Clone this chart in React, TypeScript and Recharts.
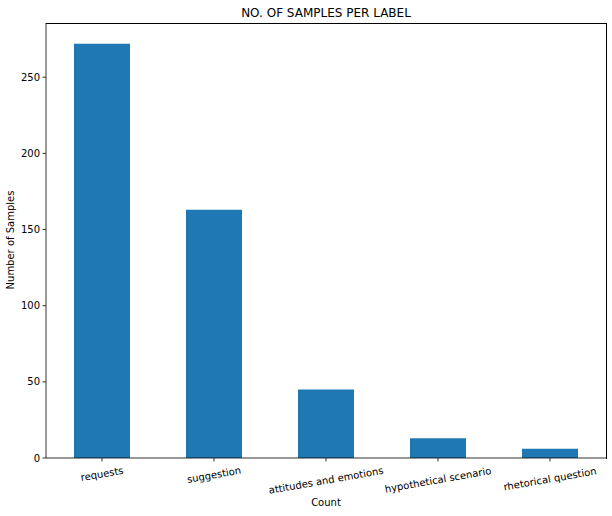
import { BarChart, Bar, XAxis, YAxis } from "recharts";

const labels = [
  "requests",
  "suggestion",
  "attitudes and emotions",
  "hypothetical scenario",
  "rhetorical question",
];
const counts = [272, 163, 45, 13, 6];
const yTicks = [0, 50, 100, 150, 200, 250];

const data = labels.map((label, i) => ({ label, count: counts[i] }));

const FONT = "DejaVu Sans, sans-serif";

const RotatedTick = ({ x, y, payload }: any) => {
  const text = String(payload.value);
  // rotated bbox height so the top of the label sits just under the tick
  const w = text.length * 5.3;
  const a = (10 * Math.PI) / 180;
  const h = w * Math.sin(a) + 11.6 * Math.cos(a);
  const cy = y + h / 2;
  return (
    <text
      x={x}
      y={cy}
      textAnchor="middle"
      dominantBaseline="central"
      transform={`rotate(-10, ${x}, ${cy})`}
      fontSize={10}
      fontFamily={FONT}
      fill="#000"
    >
      {text}
    </text>
  );
};

const App = () => {
  return (
    <div
      style={{
        position: "absolute",
        left: 0,
        top: 0,
        width: 612,
        height: 516,
        background: "#fff",
        fontFamily: FONT,
      }}
    >
      <div
        style={{
          position: "absolute",
          left: 46,
          width: 560,
          top: 5,
          textAlign: "center",
          fontSize: 12,
          lineHeight: "16px",
          color: "#000",
        }}
      >
        NO. OF SAMPLES PER LABEL
      </div>
      <div
        style={{
          position: "absolute",
          left: 10,
          top: 240,
          transform: "translate(-50%, -50%) rotate(-90deg)",
          fontSize: 10,
          whiteSpace: "nowrap",
          color: "#000",
        }}
      >
        Number of Samples
      </div>
      <div
        style={{
          position: "absolute",
          left: 46,
          width: 560,
          top: 496,
          textAlign: "center",
          fontSize: 10,
          lineHeight: "14px",
          color: "#000",
        }}
      >
        Count
      </div>
      <BarChart
        width={612}
        height={516}
        data={data}
        margin={{ top: 23, right: 6, left: 0, bottom: 0 }}
      >
        <XAxis
          dataKey="label"
          height={58}
          interval={0}
          tick={<RotatedTick />}
          tickSize={3.5}
          tickMargin={3}
          axisLine={{ stroke: "#000", strokeWidth: 0.8 }}
          tickLine={{ stroke: "#000", strokeWidth: 0.8 }}
        />
        <YAxis
          width={46}
          domain={[0, 285.6]}
          ticks={yTicks}
          tickSize={3.5}
          tickMargin={2.5}
          tick={{ fontSize: 10, fontFamily: FONT, fill: "#000" }}
          axisLine={{ stroke: "#000", strokeWidth: 0.8 }}
          tickLine={{ stroke: "#000", strokeWidth: 0.8 }}
        />
        <Bar
          dataKey="count"
          fill="#1f77b4"
          barSize={56}
          isAnimationActive={false}
        />
      </BarChart>
      {/* top and right spines of the axes frame */}
      <div
        style={{
          position: "absolute",
          left: 46,
          top: 22.6,
          width: 559.6,
          height: 435.4,
          borderTop: "0.8px solid #000",
          borderRight: "0.8px solid #000",
          pointerEvents: "none",
        }}
      />
    </div>
  );
};

export default App;
